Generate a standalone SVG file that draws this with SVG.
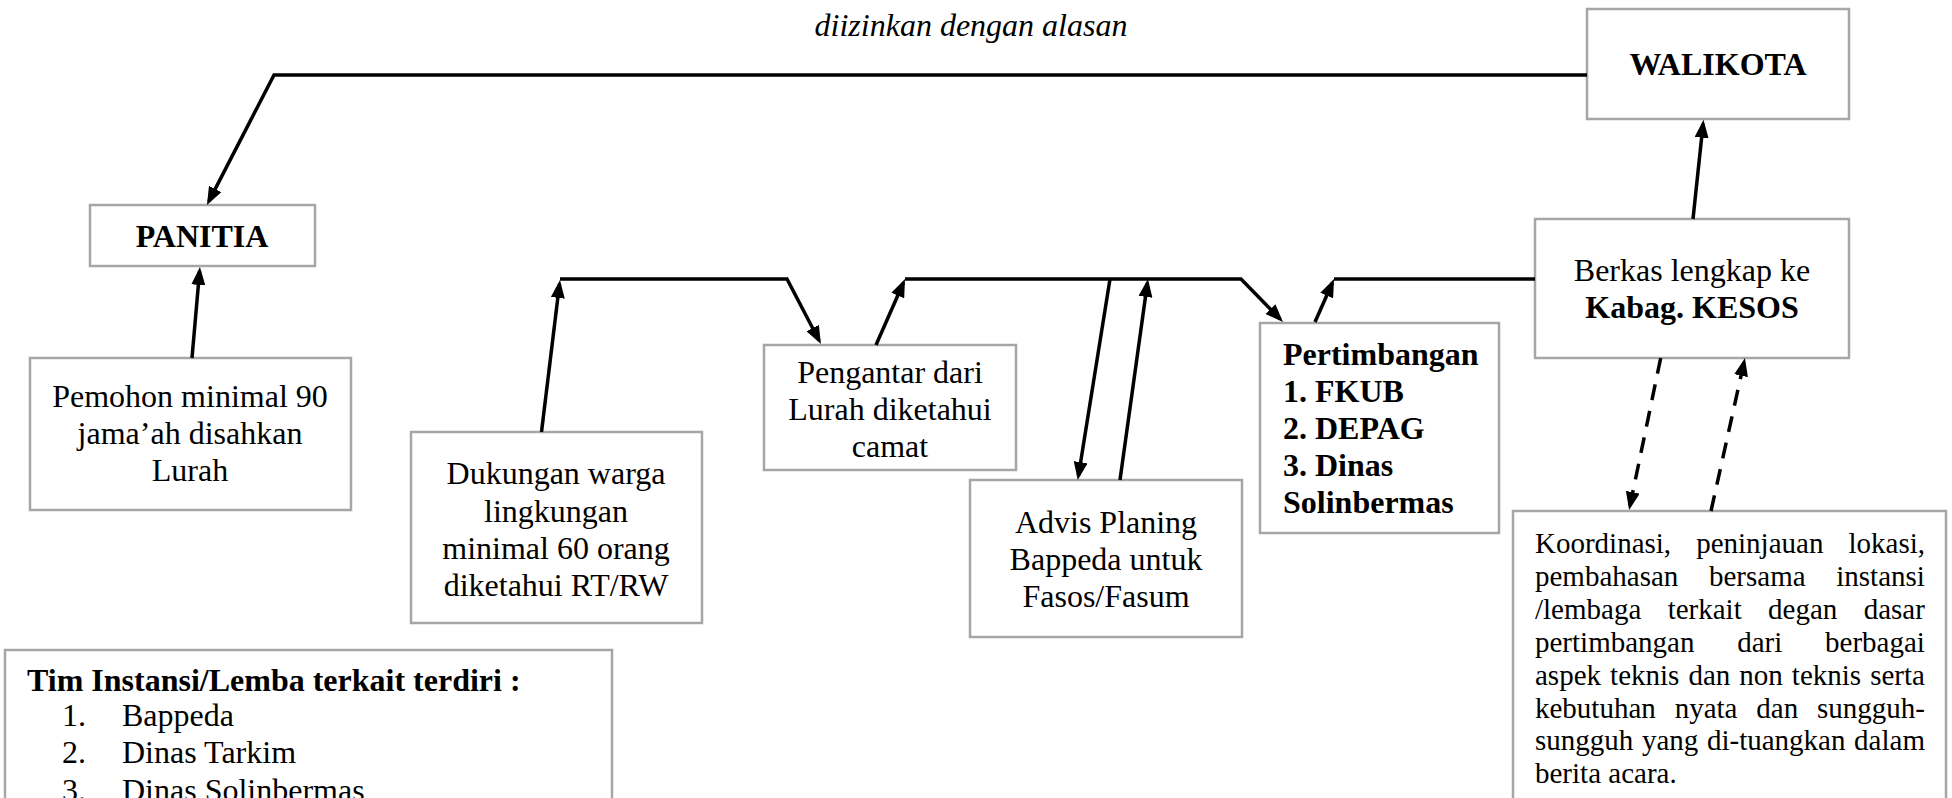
<svg xmlns="http://www.w3.org/2000/svg" width="1952" height="798" viewBox="0 0 1952 798">
<style>
.box{fill:#fff;stroke:#a6a6a6;stroke-width:2.5}
.t{font-family:"Liberation Serif","Times New Roman",serif;font-size:32px;fill:#000}
.b{font-weight:bold}
.i{font-style:italic}
.c{text-anchor:middle}
.k{font-size:29px}
.conn{fill:none;stroke:#000;stroke-width:3.5}
.dash{stroke-dasharray:16 11}
</style>
<defs>
<marker id="ah" viewBox="0 0 18 14" refX="14" refY="7" markerWidth="18" markerHeight="14" markerUnits="userSpaceOnUse" orient="auto">
<path d="M0,0 L18,7 L0,14 z" fill="#000"/>
</marker>
</defs>
<rect width="1952" height="798" fill="#fff"/>

<text id="label-alasan" class="t i c" x="971" y="36">diizinkan dengan alasan</text>

<g id="walikota">
<rect class="box" x="1587" y="9" width="262" height="110"/>
<text class="t b c" x="1718" y="75">WALIKOTA</text>
</g>

<g id="panitia">
<rect class="box" x="90" y="205" width="225" height="61"/>
<text class="t b c" x="202" y="247">PANITIA</text>
</g>

<g id="pemohon">
<rect class="box" x="30" y="358" width="321" height="152"/>
<text class="t c" x="190" y="407">Pemohon minimal 90</text>
<text class="t c" x="190" y="444">jama’ah disahkan</text>
<text class="t c" x="190" y="481">Lurah</text>
</g>

<g id="dukungan">
<rect class="box" x="411" y="432" width="291" height="191"/>
<text class="t c" x="556" y="484">Dukungan warga</text>
<text class="t c" x="556" y="522">lingkungan</text>
<text class="t c" x="556" y="559">minimal 60 orang</text>
<text class="t c" x="556" y="596">diketahui RT/RW</text>
</g>

<g id="pengantar">
<rect class="box" x="764" y="345" width="252" height="125"/>
<text class="t c" x="890" y="383">Pengantar dari</text>
<text class="t c" x="890" y="420">Lurah diketahui</text>
<text class="t c" x="890" y="457">camat</text>
</g>

<g id="advis">
<rect class="box" x="970" y="480" width="272" height="157"/>
<text class="t c" x="1106" y="533">Advis Planing</text>
<text class="t c" x="1106" y="570">Bappeda untuk</text>
<text class="t c" x="1106" y="607">Fasos/Fasum</text>
</g>

<g id="pertimbangan">
<rect class="box" x="1260" y="323" width="239" height="210"/>
<text class="t b" x="1283" y="365">Pertimbangan</text>
<text class="t b" x="1283" y="402">1. FKUB</text>
<text class="t b" x="1283" y="439">2. DEPAG</text>
<text class="t b" x="1283" y="476">3. Dinas</text>
<text class="t b" x="1283" y="513">Solinbermas</text>
</g>

<g id="berkas">
<rect class="box" x="1535" y="219" width="314" height="139"/>
<text class="t c" x="1692" y="281">Berkas lengkap ke</text>
<text class="t b c" x="1692" y="318">Kabag. KESOS</text>
</g>

<g id="koordinasi">
<rect class="box" x="1513" y="511" width="433" height="320"/>
<text class="t k" x="1535" y="553" word-spacing="17.8">Koordinasi, peninjauan lokasi,</text>
<text class="t k" x="1535" y="586" word-spacing="23.4">pembahasan bersama instansi</text>
<text class="t k" x="1535" y="619" word-spacing="19.1">/lembaga terkait degan dasar</text>
<text class="t k" x="1535" y="652" word-spacing="35.5">pertimbangan dari berbagai</text>
<text class="t k" x="1535" y="685" word-spacing="1.8">aspek teknis dan non teknis serta</text>
<text class="t k" x="1535" y="718" word-spacing="11.6">kebutuhan nyata dan sungguh-</text>
<text class="t k" x="1535" y="750" word-spacing="1.4">sungguh yang di-tuangkan dalam</text>
<text class="t k" x="1535" y="783">berita acara.</text>
</g>

<g id="tim">
<rect class="box" x="5" y="650" width="607" height="200"/>
<text class="t b" x="27" y="691">Tim Instansi/Lemba terkait terdiri :</text>
<text class="t" x="62" y="726">1.</text>
<text class="t" x="122" y="726">Bappeda</text>
<text class="t" x="62" y="763">2.</text>
<text class="t" x="122" y="763">Dinas Tarkim</text>
<text class="t" x="62" y="801">3.</text>
<text class="t" x="122" y="801">Dinas Solinbermas</text>
</g>

<g id="connectors">
<path class="conn" d="M1587,75 H274 L208.8,201.4" marker-end="url(#ah)"/>
<path class="conn" d="M192,358 L199.6,271" marker-end="url(#ah)"/>
<path class="conn" d="M541.5,432 L559.5,284" marker-end="url(#ah)"/>
<path class="conn" d="M560,279 H787 L819.1,340.5" marker-end="url(#ah)"/>
<path class="conn" d="M876,345 L903.4,282.7" marker-end="url(#ah)"/>
<path class="conn" d="M905,279 H1241 L1280.2,319.1" marker-end="url(#ah)"/>
<path class="conn" d="M1110,279 L1078.4,476" marker-end="url(#ah)"/>
<path class="conn" d="M1120,480 L1147.4,283" marker-end="url(#ah)"/>
<path class="conn" d="M1315,322 L1332.4,282.7" marker-end="url(#ah)"/>
<path class="conn" d="M1334,279 H1535"/>
<path class="conn" d="M1693,219 L1703.1,123.8" marker-end="url(#ah)"/>
<path class="conn dash" d="M1660.7,358 L1629.9,506" marker-end="url(#ah)"/>
<path class="conn dash" d="M1711,511 L1744.1,362" marker-end="url(#ah)"/>
</g>
</svg>
